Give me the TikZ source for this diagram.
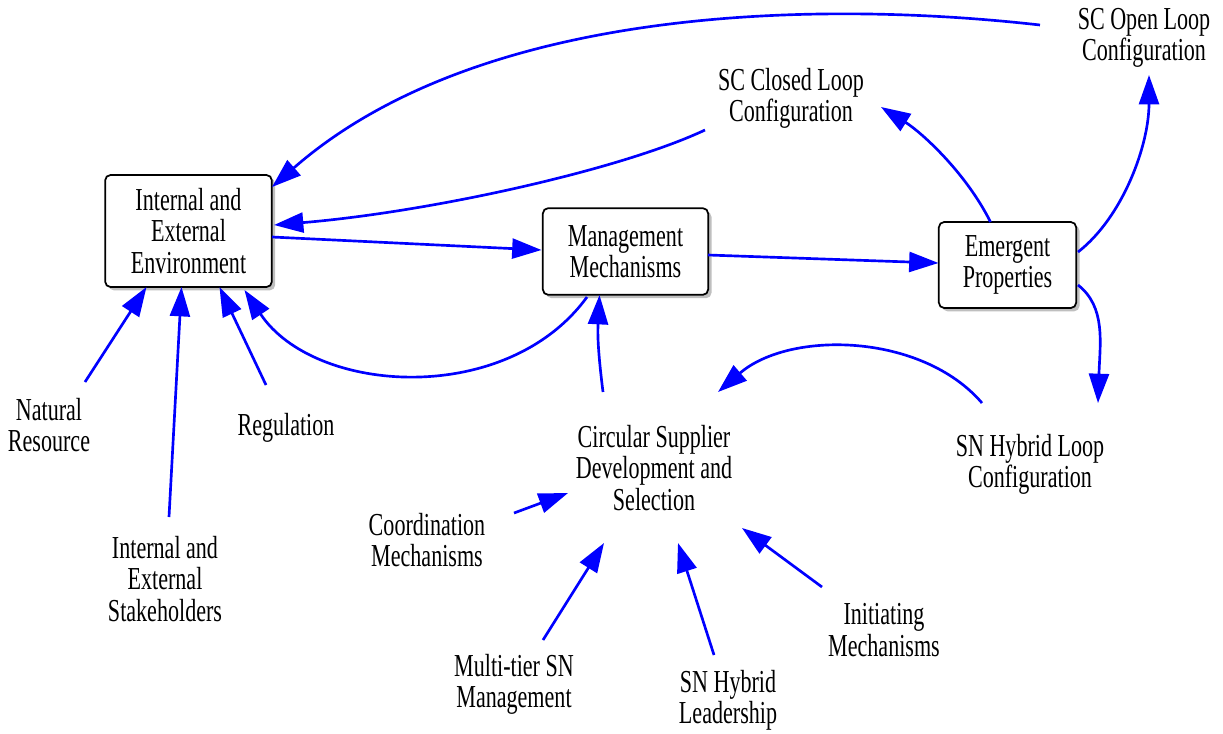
\documentclass[tikz,border=0pt]{standalone}
\usepackage{fontspec}
\setmainfont{Liberation Serif}[FakeStretch=0.69]
\usetikzlibrary{arrows.meta,shadows,calc}

\begin{document}
\begin{tikzpicture}[x=0.75pt,y=-0.75pt,
  lbl/.style={align=center,font=\fontsize{24}{23.4}\selectfont,inner sep=0pt},
  box/.style={lbl,draw=black,line width=1.3pt,fill=white,rounded corners=4pt,
    drop shadow={shadow xshift=2.5pt,shadow yshift=-2.5pt,fill=black!50,opacity=0.5}},
  link/.style={draw=blue,line width=2pt,-{Triangle[length=22pt,width=15pt]}}]

\fill[white] (0,0) rectangle (1223,733);
\useasboundingbox (0,0) rectangle (1223,733);

% stocks
\node[box,minimum width=125pt,minimum height=84pt] (iee) at (188.5,231) {Internal and\\External\\Environment};
\node[box,minimum width=124pt,minimum height=65pt] (mm) at (625.5,251.5) {Management\\Mechanisms};
\node[box,minimum width=103pt,minimum height=64.5pt] (ep) at (1007.5,265) {Emergent\\Properties};

% variables
\node[lbl] (open)   at (1144,38)  {SC Open Loop\\Configuration};
\node[lbl] (closed) at (791,98)   {SC Closed Loop\\Configuration};
\node[lbl] (csds)   at (654,468)  {Circular Supplier\\Development and\\Selection};
\node[lbl] (snloop) at (1030,464) {SN Hybrid Loop\\Configuration};
\node[lbl] (nat)    at (49,425)   {Natural\\Resource};
\node[lbl] (reg)    at (286,428)  {Regulation};
\node[lbl] (stake)  at (165,579)  {Internal and\\External\\Stakeholders};
\node[lbl] (coord)  at (427,540)  {Coordination\\Mechanisms};
\node[lbl] (multi)  at (514,684)  {Multi-tier SN\\Management};
\node[lbl] (lead)   at (728,700)  {SN Hybrid\\Leadership};
\node[lbl] (init)   at (884,630)  {Initiating\\Mechanisms};

% links between the main stocks
\draw[link] ($(open)+(-104,-13)$) .. controls +(-220,-25) and +(208,-182) .. ($(iee)+(83.5,-44)$);
\draw[link] ($(closed)+(-86,32)$) .. controls +(-85,40) and +(156,-13) .. ($(iee)+(85.5,-6)$);
\draw[link] ($(iee)+(83.5,6)$) -- ($(mm)+(-84,-1.5)$);
\draw[link] ($(mm)+(82.5,3.5)$) -- ($(ep)+(-69,-2)$);
\draw[link] ($(mm)+(-38.5,45.5)$) .. controls +(-80,110) and +(70,105) .. ($(iee)+(56,59)$);
\draw[link] ($(csds)+(-51,-76)$) .. controls +(-5,-40) and +(-2,40) .. ($(mm)+(-26,43.5)$);

% emergent properties and loop configurations
\draw[link] ($(ep)+(-17,-43)$) .. controls +(-25,-50) and +(40,25) .. ($(closed)+(90,9)$);
\draw[link] ($(ep)+(70.5,-13)$) .. controls +(45,-35) and +(0,70) .. ($(open)+(5,37)$);
\draw[link] ($(ep)+(70.5,20)$) .. controls +(28,22) and +(2,-60) .. ($(snloop)+(68,-61)$);
\draw[link] ($(snloop)+(-48,-61)$) .. controls +(-60,-70) and +(72,-62) .. ($(csds)+(64,-76)$);

% external drivers
\draw[link] ($(nat)+(36,-43)$) -- ($(iee)+(-42,56)$);
\draw[link] ($(stake)+(4,-62)$) -- ($(iee)+(-7,56)$);
\draw[link] ($(reg)+(-20,-43)$) -- ($(iee)+(31,56)$);

% supplier development drivers
\draw[link] ($(coord)+(87,-27)$) -- ($(csds)+(-86,25)$);
\draw[link] ($(multi)+(29,-44)$) -- ($(csds)+(-50,75)$);
\draw[link] ($(lead)+(-14,-45)$) -- ($(csds)+(24,75)$);
\draw[link] ($(init)+(-62,-43)$) -- ($(csds)+(88,60)$);
\end{tikzpicture}
\end{document}
